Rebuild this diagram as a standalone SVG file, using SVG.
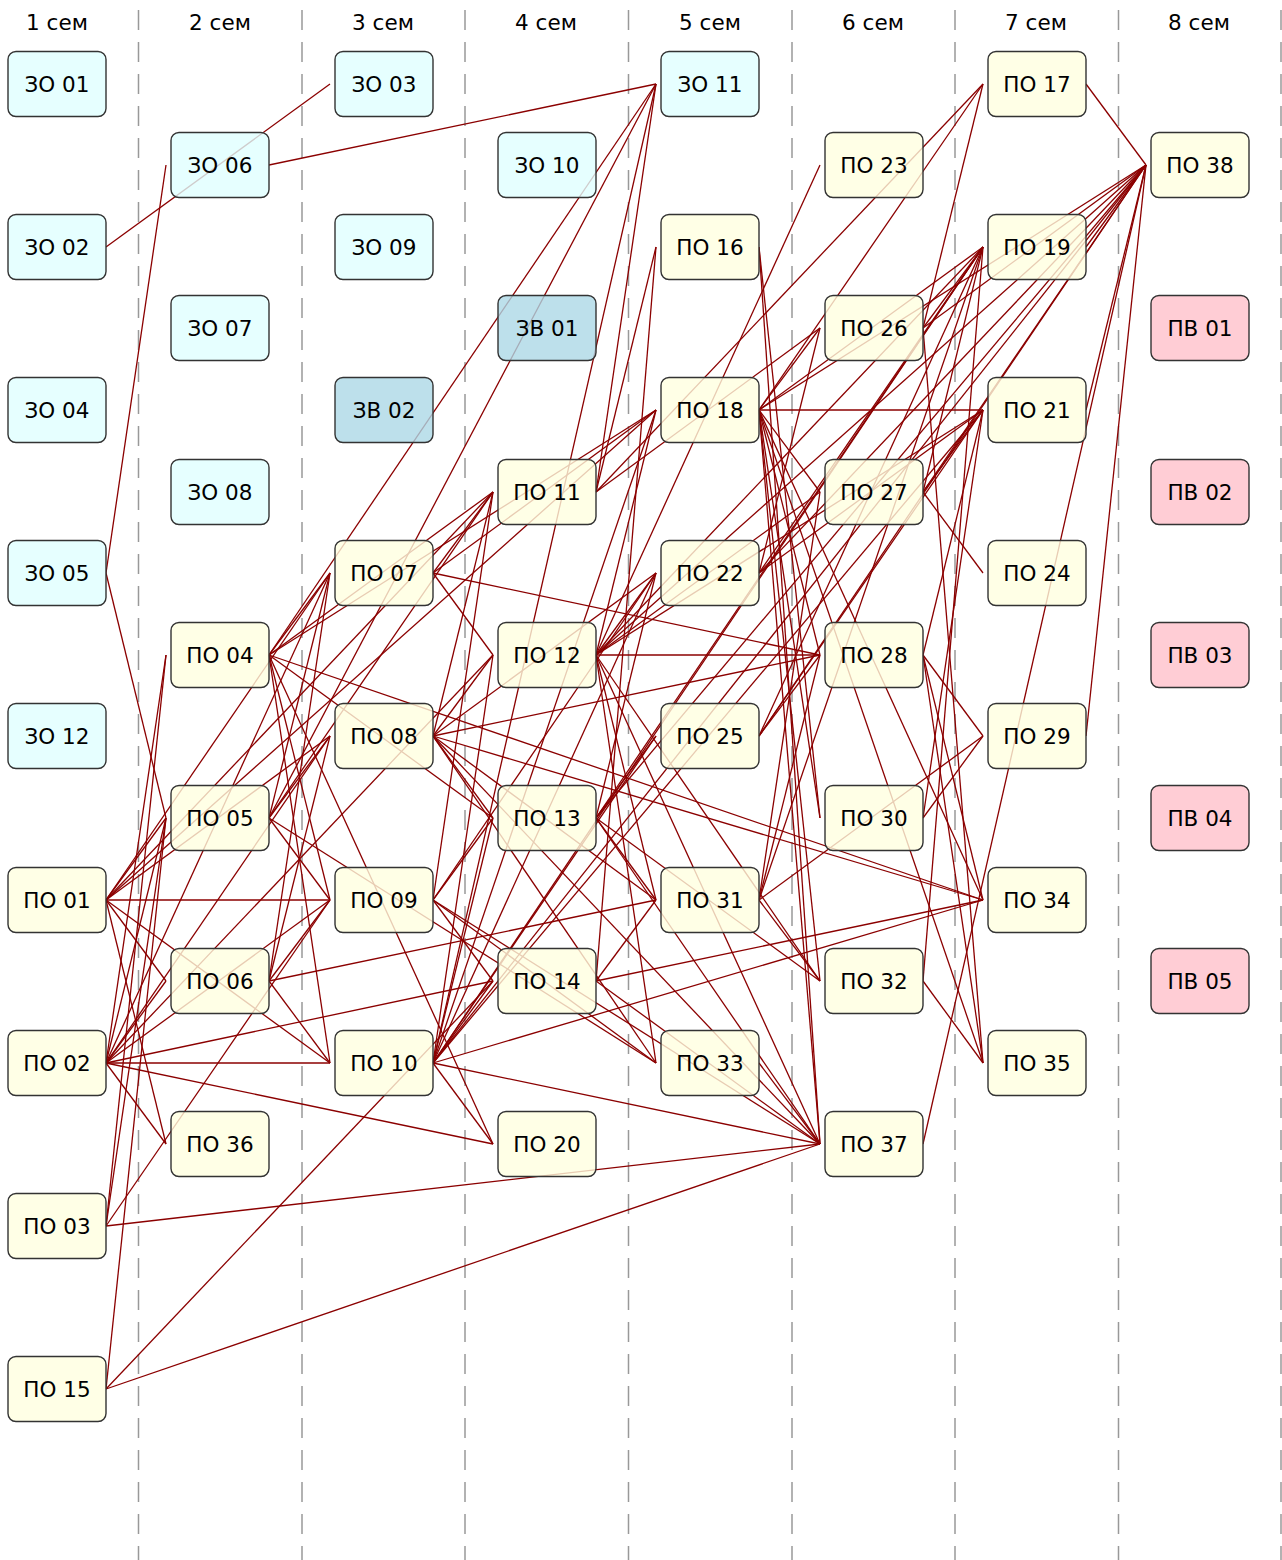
<svg xmlns="http://www.w3.org/2000/svg" width="1282" height="1560" viewBox="0 0 1282 1560">
<style>
.hdr{font-family:"DejaVu Sans",sans-serif;font-size:21.5px;fill:#000;text-anchor:middle}
.sep{stroke:#999;stroke-width:1.5;stroke-dasharray:20,12}
.e line{stroke:#8b0000;stroke-width:1.3}
.n rect{stroke:#333;stroke-width:1.4;fill-opacity:0.8}
.n text{font-family:"DejaVu Sans",sans-serif;font-size:21.5px;fill:#000;text-anchor:middle}
.zo rect{fill:#e0ffff}.zv rect{fill:#add8e6}.po rect{fill:#ffffe0}.pv rect{fill:#ffc0cb}
</style>
<rect width="1282" height="1560" fill="#fff"/>
<g id="headers">
<text class="hdr" x="57" y="30">1 сем</text><text class="hdr" x="220" y="30">2 сем</text><text class="hdr" x="383" y="30">3 сем</text><text class="hdr" x="546" y="30">4 сем</text><text class="hdr" x="710" y="30">5 сем</text><text class="hdr" x="873" y="30">6 сем</text><text class="hdr" x="1036" y="30">7 сем</text><text class="hdr" x="1199" y="30">8 сем</text>
</g>
<g id="separators">
<line class="sep" x1="138.5" y1="10" x2="138.5" y2="1560"/><line class="sep" x1="302" y1="10" x2="302" y2="1560"/><line class="sep" x1="465" y1="10" x2="465" y2="1560"/><line class="sep" x1="628.5" y1="10" x2="628.5" y2="1560"/><line class="sep" x1="792" y1="10" x2="792" y2="1560"/><line class="sep" x1="955" y1="10" x2="955" y2="1560"/><line class="sep" x1="1118.5" y1="10" x2="1118.5" y2="1560"/><line class="sep" x1="1281" y1="10" x2="1281" y2="1560"/>
</g>
<g id="connectors" class="e">
<line x1="106" y1="247" x2="330" y2="84"/>
<line x1="106" y1="573" x2="166" y2="165"/>
<line x1="106" y1="573" x2="166" y2="818"/>
<line x1="106" y1="900" x2="166" y2="818"/>
<line x1="106" y1="900" x2="166" y2="981"/>
<line x1="106" y1="900" x2="166" y2="1144"/>
<line x1="106" y1="900" x2="330" y2="573"/>
<line x1="106" y1="900" x2="330" y2="736"/>
<line x1="106" y1="900" x2="330" y2="900"/>
<line x1="106" y1="900" x2="330" y2="1063"/>
<line x1="106" y1="900" x2="493" y2="492"/>
<line x1="106" y1="900" x2="656" y2="410"/>
<line x1="106" y1="1063" x2="166" y2="655"/>
<line x1="106" y1="1063" x2="166" y2="818"/>
<line x1="106" y1="1063" x2="166" y2="981"/>
<line x1="106" y1="1063" x2="166" y2="1144"/>
<line x1="106" y1="1063" x2="330" y2="573"/>
<line x1="106" y1="1063" x2="330" y2="736"/>
<line x1="106" y1="1063" x2="330" y2="900"/>
<line x1="106" y1="1063" x2="330" y2="1063"/>
<line x1="106" y1="1063" x2="493" y2="981"/>
<line x1="106" y1="1063" x2="493" y2="1144"/>
<line x1="106" y1="1063" x2="493" y2="655"/>
<line x1="106" y1="1226" x2="166" y2="818"/>
<line x1="106" y1="1226" x2="166" y2="655"/>
<line x1="106" y1="1226" x2="330" y2="900"/>
<line x1="106" y1="1226" x2="820" y2="1144"/>
<line x1="106" y1="1389" x2="166" y2="818"/>
<line x1="106" y1="1389" x2="493" y2="981"/>
<line x1="106" y1="1389" x2="820" y2="1144"/>
<line x1="269" y1="165" x2="656" y2="84"/>
<line x1="269" y1="655" x2="330" y2="573"/>
<line x1="269" y1="655" x2="656" y2="84"/>
<line x1="269" y1="655" x2="493" y2="492"/>
<line x1="269" y1="655" x2="656" y2="410"/>
<line x1="269" y1="655" x2="983" y2="900"/>
<line x1="269" y1="655" x2="330" y2="900"/>
<line x1="269" y1="655" x2="330" y2="1063"/>
<line x1="269" y1="655" x2="493" y2="1144"/>
<line x1="269" y1="655" x2="493" y2="818"/>
<line x1="269" y1="818" x2="330" y2="573"/>
<line x1="269" y1="818" x2="330" y2="736"/>
<line x1="269" y1="818" x2="493" y2="492"/>
<line x1="269" y1="818" x2="330" y2="900"/>
<line x1="269" y1="818" x2="656" y2="1063"/>
<line x1="269" y1="818" x2="656" y2="84"/>
<line x1="269" y1="981" x2="330" y2="736"/>
<line x1="269" y1="981" x2="330" y2="900"/>
<line x1="269" y1="981" x2="330" y2="1063"/>
<line x1="269" y1="981" x2="656" y2="900"/>
<line x1="269" y1="981" x2="330" y2="573"/>
<line x1="433" y1="573" x2="493" y2="492"/>
<line x1="433" y1="573" x2="493" y2="655"/>
<line x1="433" y1="573" x2="820" y2="655"/>
<line x1="433" y1="573" x2="656" y2="410"/>
<line x1="433" y1="736" x2="493" y2="492"/>
<line x1="433" y1="736" x2="493" y2="655"/>
<line x1="433" y1="736" x2="493" y2="818"/>
<line x1="433" y1="736" x2="820" y2="655"/>
<line x1="433" y1="736" x2="656" y2="900"/>
<line x1="433" y1="736" x2="656" y2="1063"/>
<line x1="433" y1="736" x2="983" y2="900"/>
<line x1="433" y1="736" x2="820" y2="1144"/>
<line x1="433" y1="736" x2="656" y2="573"/>
<line x1="433" y1="900" x2="493" y2="818"/>
<line x1="433" y1="900" x2="493" y2="981"/>
<line x1="433" y1="900" x2="656" y2="1063"/>
<line x1="433" y1="900" x2="656" y2="573"/>
<line x1="433" y1="900" x2="820" y2="1144"/>
<line x1="433" y1="900" x2="493" y2="492"/>
<line x1="433" y1="1063" x2="493" y2="655"/>
<line x1="433" y1="1063" x2="493" y2="818"/>
<line x1="433" y1="1063" x2="493" y2="981"/>
<line x1="433" y1="1063" x2="493" y2="1144"/>
<line x1="433" y1="1063" x2="656" y2="573"/>
<line x1="433" y1="1063" x2="656" y2="736"/>
<line x1="433" y1="1063" x2="820" y2="1144"/>
<line x1="433" y1="1063" x2="983" y2="900"/>
<line x1="433" y1="1063" x2="983" y2="247"/>
<line x1="433" y1="1063" x2="983" y2="410"/>
<line x1="433" y1="1063" x2="656" y2="410"/>
<line x1="433" y1="1063" x2="656" y2="84"/>
<line x1="433" y1="1063" x2="1146" y2="165"/>
<line x1="596" y1="492" x2="656" y2="84"/>
<line x1="596" y1="492" x2="820" y2="328"/>
<line x1="596" y1="492" x2="656" y2="247"/>
<line x1="596" y1="492" x2="983" y2="84"/>
<line x1="596" y1="655" x2="656" y2="573"/>
<line x1="596" y1="655" x2="820" y2="655"/>
<line x1="596" y1="655" x2="656" y2="900"/>
<line x1="596" y1="655" x2="656" y2="1063"/>
<line x1="596" y1="655" x2="820" y2="1144"/>
<line x1="596" y1="655" x2="820" y2="981"/>
<line x1="596" y1="655" x2="983" y2="247"/>
<line x1="596" y1="655" x2="983" y2="410"/>
<line x1="596" y1="655" x2="820" y2="492"/>
<line x1="596" y1="655" x2="656" y2="410"/>
<line x1="596" y1="655" x2="820" y2="165"/>
<line x1="596" y1="655" x2="1146" y2="165"/>
<line x1="596" y1="818" x2="656" y2="573"/>
<line x1="596" y1="818" x2="656" y2="736"/>
<line x1="596" y1="818" x2="656" y2="900"/>
<line x1="596" y1="818" x2="820" y2="1144"/>
<line x1="596" y1="818" x2="983" y2="247"/>
<line x1="596" y1="818" x2="1146" y2="165"/>
<line x1="596" y1="818" x2="820" y2="981"/>
<line x1="596" y1="981" x2="656" y2="900"/>
<line x1="596" y1="981" x2="983" y2="900"/>
<line x1="596" y1="981" x2="820" y2="1144"/>
<line x1="596" y1="981" x2="656" y2="247"/>
<line x1="759" y1="247" x2="820" y2="1144"/>
<line x1="759" y1="247" x2="820" y2="818"/>
<line x1="759" y1="410" x2="983" y2="247"/>
<line x1="759" y1="410" x2="983" y2="410"/>
<line x1="759" y1="410" x2="820" y2="328"/>
<line x1="759" y1="410" x2="820" y2="492"/>
<line x1="759" y1="410" x2="820" y2="655"/>
<line x1="759" y1="410" x2="820" y2="818"/>
<line x1="759" y1="410" x2="820" y2="981"/>
<line x1="759" y1="410" x2="983" y2="900"/>
<line x1="759" y1="410" x2="983" y2="1063"/>
<line x1="759" y1="410" x2="820" y2="1144"/>
<line x1="759" y1="410" x2="1146" y2="165"/>
<line x1="759" y1="410" x2="983" y2="84"/>
<line x1="759" y1="573" x2="983" y2="247"/>
<line x1="759" y1="573" x2="1146" y2="165"/>
<line x1="759" y1="573" x2="820" y2="328"/>
<line x1="759" y1="573" x2="983" y2="410"/>
<line x1="759" y1="736" x2="820" y2="655"/>
<line x1="759" y1="736" x2="983" y2="410"/>
<line x1="759" y1="736" x2="983" y2="247"/>
<line x1="759" y1="736" x2="1146" y2="165"/>
<line x1="759" y1="900" x2="820" y2="655"/>
<line x1="759" y1="900" x2="820" y2="492"/>
<line x1="759" y1="900" x2="983" y2="247"/>
<line x1="759" y1="900" x2="820" y2="981"/>
<line x1="759" y1="900" x2="983" y2="736"/>
<line x1="759" y1="1063" x2="820" y2="1144"/>
<line x1="923" y1="328" x2="983" y2="84"/>
<line x1="923" y1="328" x2="983" y2="247"/>
<line x1="923" y1="328" x2="1146" y2="165"/>
<line x1="923" y1="328" x2="983" y2="1063"/>
<line x1="923" y1="492" x2="983" y2="573"/>
<line x1="923" y1="492" x2="983" y2="410"/>
<line x1="923" y1="492" x2="1146" y2="165"/>
<line x1="923" y1="492" x2="983" y2="247"/>
<line x1="923" y1="655" x2="983" y2="736"/>
<line x1="923" y1="655" x2="983" y2="900"/>
<line x1="923" y1="655" x2="983" y2="1063"/>
<line x1="923" y1="655" x2="983" y2="410"/>
<line x1="923" y1="818" x2="983" y2="736"/>
<line x1="923" y1="818" x2="983" y2="410"/>
<line x1="923" y1="981" x2="983" y2="247"/>
<line x1="923" y1="981" x2="983" y2="1063"/>
<line x1="923" y1="1144" x2="1146" y2="165"/>
<line x1="1086" y1="84" x2="1146" y2="165"/>
<line x1="1086" y1="736" x2="1146" y2="165"/>
<line x1="1086" y1="247" x2="1146" y2="165"/>
<line x1="1086" y1="410" x2="1146" y2="165"/>
</g>
<g id="nodes">
<g id="ZO01" class="n zo"><rect x="8" y="51.5" width="98" height="65" rx="8"/><text x="57" y="91.5">ЗО 01</text></g>
<g id="ZO02" class="n zo"><rect x="8" y="214.5" width="98" height="65" rx="8"/><text x="57" y="254.5">ЗО 02</text></g>
<g id="ZO04" class="n zo"><rect x="8" y="377.5" width="98" height="65" rx="8"/><text x="57" y="417.5">ЗО 04</text></g>
<g id="ZO05" class="n zo"><rect x="8" y="540.5" width="98" height="65" rx="8"/><text x="57" y="580.5">ЗО 05</text></g>
<g id="ZO12" class="n zo"><rect x="8" y="703.5" width="98" height="65" rx="8"/><text x="57" y="743.5">ЗО 12</text></g>
<g id="PO01" class="n po"><rect x="8" y="867.5" width="98" height="65" rx="8"/><text x="57" y="907.5">ПО 01</text></g>
<g id="PO02" class="n po"><rect x="8" y="1030.5" width="98" height="65" rx="8"/><text x="57" y="1070.5">ПО 02</text></g>
<g id="PO03" class="n po"><rect x="8" y="1193.5" width="98" height="65" rx="8"/><text x="57" y="1233.5">ПО 03</text></g>
<g id="PO15" class="n po"><rect x="8" y="1356.5" width="98" height="65" rx="8"/><text x="57" y="1396.5">ПО 15</text></g>
<g id="ZO06" class="n zo"><rect x="171" y="132.5" width="98" height="65" rx="8"/><text x="220" y="172.5">ЗО 06</text></g>
<g id="ZO07" class="n zo"><rect x="171" y="295.5" width="98" height="65" rx="8"/><text x="220" y="335.5">ЗО 07</text></g>
<g id="ZO08" class="n zo"><rect x="171" y="459.5" width="98" height="65" rx="8"/><text x="220" y="499.5">ЗО 08</text></g>
<g id="PO04" class="n po"><rect x="171" y="622.5" width="98" height="65" rx="8"/><text x="220" y="662.5">ПО 04</text></g>
<g id="PO05" class="n po"><rect x="171" y="785.5" width="98" height="65" rx="8"/><text x="220" y="825.5">ПО 05</text></g>
<g id="PO06" class="n po"><rect x="171" y="948.5" width="98" height="65" rx="8"/><text x="220" y="988.5">ПО 06</text></g>
<g id="PO36" class="n po"><rect x="171" y="1111.5" width="98" height="65" rx="8"/><text x="220" y="1151.5">ПО 36</text></g>
<g id="ZO03" class="n zo"><rect x="335" y="51.5" width="98" height="65" rx="8"/><text x="384" y="91.5">ЗО 03</text></g>
<g id="ZO09" class="n zo"><rect x="335" y="214.5" width="98" height="65" rx="8"/><text x="384" y="254.5">ЗО 09</text></g>
<g id="ZV02" class="n zv"><rect x="335" y="377.5" width="98" height="65" rx="8"/><text x="384" y="417.5">ЗВ 02</text></g>
<g id="PO07" class="n po"><rect x="335" y="540.5" width="98" height="65" rx="8"/><text x="384" y="580.5">ПО 07</text></g>
<g id="PO08" class="n po"><rect x="335" y="703.5" width="98" height="65" rx="8"/><text x="384" y="743.5">ПО 08</text></g>
<g id="PO09" class="n po"><rect x="335" y="867.5" width="98" height="65" rx="8"/><text x="384" y="907.5">ПО 09</text></g>
<g id="PO10" class="n po"><rect x="335" y="1030.5" width="98" height="65" rx="8"/><text x="384" y="1070.5">ПО 10</text></g>
<g id="ZO10" class="n zo"><rect x="498" y="132.5" width="98" height="65" rx="8"/><text x="547" y="172.5">ЗО 10</text></g>
<g id="ZV01" class="n zv"><rect x="498" y="295.5" width="98" height="65" rx="8"/><text x="547" y="335.5">ЗВ 01</text></g>
<g id="PO11" class="n po"><rect x="498" y="459.5" width="98" height="65" rx="8"/><text x="547" y="499.5">ПО 11</text></g>
<g id="PO12" class="n po"><rect x="498" y="622.5" width="98" height="65" rx="8"/><text x="547" y="662.5">ПО 12</text></g>
<g id="PO13" class="n po"><rect x="498" y="785.5" width="98" height="65" rx="8"/><text x="547" y="825.5">ПО 13</text></g>
<g id="PO14" class="n po"><rect x="498" y="948.5" width="98" height="65" rx="8"/><text x="547" y="988.5">ПО 14</text></g>
<g id="PO20" class="n po"><rect x="498" y="1111.5" width="98" height="65" rx="8"/><text x="547" y="1151.5">ПО 20</text></g>
<g id="ZO11" class="n zo"><rect x="661" y="51.5" width="98" height="65" rx="8"/><text x="710" y="91.5">ЗО 11</text></g>
<g id="PO16" class="n po"><rect x="661" y="214.5" width="98" height="65" rx="8"/><text x="710" y="254.5">ПО 16</text></g>
<g id="PO18" class="n po"><rect x="661" y="377.5" width="98" height="65" rx="8"/><text x="710" y="417.5">ПО 18</text></g>
<g id="PO22" class="n po"><rect x="661" y="540.5" width="98" height="65" rx="8"/><text x="710" y="580.5">ПО 22</text></g>
<g id="PO25" class="n po"><rect x="661" y="703.5" width="98" height="65" rx="8"/><text x="710" y="743.5">ПО 25</text></g>
<g id="PO31" class="n po"><rect x="661" y="867.5" width="98" height="65" rx="8"/><text x="710" y="907.5">ПО 31</text></g>
<g id="PO33" class="n po"><rect x="661" y="1030.5" width="98" height="65" rx="8"/><text x="710" y="1070.5">ПО 33</text></g>
<g id="PO23" class="n po"><rect x="825" y="132.5" width="98" height="65" rx="8"/><text x="874" y="172.5">ПО 23</text></g>
<g id="PO26" class="n po"><rect x="825" y="295.5" width="98" height="65" rx="8"/><text x="874" y="335.5">ПО 26</text></g>
<g id="PO27" class="n po"><rect x="825" y="459.5" width="98" height="65" rx="8"/><text x="874" y="499.5">ПО 27</text></g>
<g id="PO28" class="n po"><rect x="825" y="622.5" width="98" height="65" rx="8"/><text x="874" y="662.5">ПО 28</text></g>
<g id="PO30" class="n po"><rect x="825" y="785.5" width="98" height="65" rx="8"/><text x="874" y="825.5">ПО 30</text></g>
<g id="PO32" class="n po"><rect x="825" y="948.5" width="98" height="65" rx="8"/><text x="874" y="988.5">ПО 32</text></g>
<g id="PO37" class="n po"><rect x="825" y="1111.5" width="98" height="65" rx="8"/><text x="874" y="1151.5">ПО 37</text></g>
<g id="PO17" class="n po"><rect x="988" y="51.5" width="98" height="65" rx="8"/><text x="1037" y="91.5">ПО 17</text></g>
<g id="PO19" class="n po"><rect x="988" y="214.5" width="98" height="65" rx="8"/><text x="1037" y="254.5">ПО 19</text></g>
<g id="PO21" class="n po"><rect x="988" y="377.5" width="98" height="65" rx="8"/><text x="1037" y="417.5">ПО 21</text></g>
<g id="PO24" class="n po"><rect x="988" y="540.5" width="98" height="65" rx="8"/><text x="1037" y="580.5">ПО 24</text></g>
<g id="PO29" class="n po"><rect x="988" y="703.5" width="98" height="65" rx="8"/><text x="1037" y="743.5">ПО 29</text></g>
<g id="PO34" class="n po"><rect x="988" y="867.5" width="98" height="65" rx="8"/><text x="1037" y="907.5">ПО 34</text></g>
<g id="PO35" class="n po"><rect x="988" y="1030.5" width="98" height="65" rx="8"/><text x="1037" y="1070.5">ПО 35</text></g>
<g id="PO38" class="n po"><rect x="1151" y="132.5" width="98" height="65" rx="8"/><text x="1200" y="172.5">ПО 38</text></g>
<g id="PV01" class="n pv"><rect x="1151" y="295.5" width="98" height="65" rx="8"/><text x="1200" y="335.5">ПВ 01</text></g>
<g id="PV02" class="n pv"><rect x="1151" y="459.5" width="98" height="65" rx="8"/><text x="1200" y="499.5">ПВ 02</text></g>
<g id="PV03" class="n pv"><rect x="1151" y="622.5" width="98" height="65" rx="8"/><text x="1200" y="662.5">ПВ 03</text></g>
<g id="PV04" class="n pv"><rect x="1151" y="785.5" width="98" height="65" rx="8"/><text x="1200" y="825.5">ПВ 04</text></g>
<g id="PV05" class="n pv"><rect x="1151" y="948.5" width="98" height="65" rx="8"/><text x="1200" y="988.5">ПВ 05</text></g>
</g>
</svg>
